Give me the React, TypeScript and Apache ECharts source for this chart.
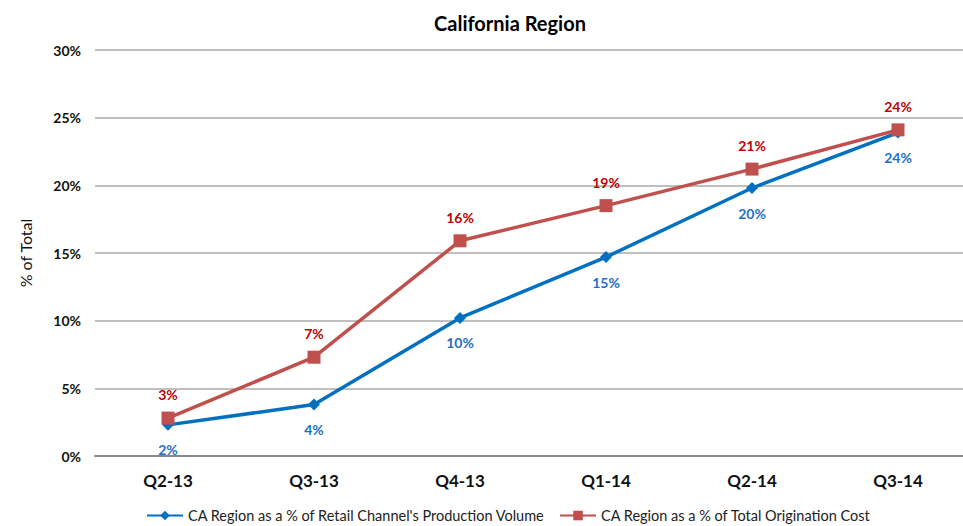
import React, { useEffect, useRef } from "react";
import * as echarts from "echarts";

const categories = ["Q2-13", "Q3-13", "Q4-13", "Q1-14", "Q2-14", "Q3-14"];
const retailShare = [2.3, 3.8, 10.2, 14.7, 19.8, 23.9];
const originationShare = [2.8, 7.3, 15.9, 18.5, 21.2, 24.1];
const retailLabels = ["2%", "4%", "10%", "15%", "20%", "24%"];
const originationLabels = ["3%", "7%", "16%", "19%", "21%", "24%"];
const yTicks = [0, 5, 10, 15, 20, 25, 30];

const FONT = "Lato, 'Liberation Sans', sans-serif";

export default function App() {
  const ref = useRef<HTMLDivElement>(null);
  useEffect(() => {
    if (!ref.current) return;
    const chart = echarts.init(ref.current, null, { renderer: "svg" });
    chart.setOption({
      animation: false,
      backgroundColor: "#ffffff",
      textStyle: { fontFamily: FONT },
      title: {
        text: "California Region",
        left: 505,
        top: 8,
        textAlign: "center",
        textStyle: { fontSize: 20, fontWeight: "bold", color: "#000", fontFamily: FONT },
      },
      legend: {
        top: 508,
        left: 146,
        padding: 0,
        itemWidth: 36,
        itemHeight: 12,
        itemGap: 14,
        textStyle: { fontSize: 14.5, color: "#222", fontFamily: FONT },
        data: [
          "CA Region as a % of Retail Channel's Production Volume",
          "CA Region as a % of Total Origination Cost",
        ],
      },
      grid: { left: 95, right: 0, top: 50, bottom: 70 },
      xAxis: {
        type: "category",
        data: categories,
        boundaryGap: true,
        axisLine: { show: true, lineStyle: { color: "#888", width: 2 } },
        axisTick: { show: false },
        axisLabel: { fontSize: 17, fontWeight: "bold", color: "#111", margin: 16, fontFamily: FONT },
      },
      yAxis: {
        type: "value",
        min: yTicks[0],
        max: yTicks[yTicks.length - 1],
        interval: 5,
        name: "% of Total",
        nameLocation: "middle",
        nameGap: 62,
        nameRotate: 90,
        nameTextStyle: { fontSize: 16, color: "#111", fontFamily: FONT },
        axisLine: { show: false },
        axisTick: { show: false },
        axisLabel: {
          formatter: (v: number) => v + "%",
          fontSize: 14,
          fontWeight: "bold",
          color: "#111",
          margin: 14,
          fontFamily: FONT,
        },
        splitLine: { lineStyle: { color: "#aaaaaa", width: 1.5 } },
      },
      series: [
        {
          name: "CA Region as a % of Retail Channel's Production Volume",
          type: "line",
          data: retailShare,
          symbol: "diamond",
          symbolSize: 12,
          itemStyle: { color: "#0070c0" },
          lineStyle: { color: "#0070c0", width: 3.5 },
          label: {
            show: true,
            position: "bottom",
            distance: 12,
            formatter: (p: any) => retailLabels[p.dataIndex],
            color: "#1f6fc5",
            fontSize: 14,
            fontWeight: "bold",
            fontFamily: FONT,
          },
          z: 3,
        },
        {
          name: "CA Region as a % of Total Origination Cost",
          type: "line",
          data: originationShare,
          symbol: "rect",
          symbolSize: 13,
          itemStyle: { color: "#c0504d" },
          lineStyle: { color: "#c0504d", width: 3.5 },
          label: {
            show: true,
            position: "top",
            distance: 10,
            formatter: (p: any) => originationLabels[p.dataIndex],
            color: "#c00000",
            fontSize: 14,
            fontWeight: "bold",
            fontFamily: FONT,
          },
          z: 4,
        },
      ],
    });
    return () => chart.dispose();
  }, []);
  return (
    <div
      ref={ref}
      style={{ position: "absolute", left: 0, top: 0, width: 971, height: 526 }}
    />
  );
}
